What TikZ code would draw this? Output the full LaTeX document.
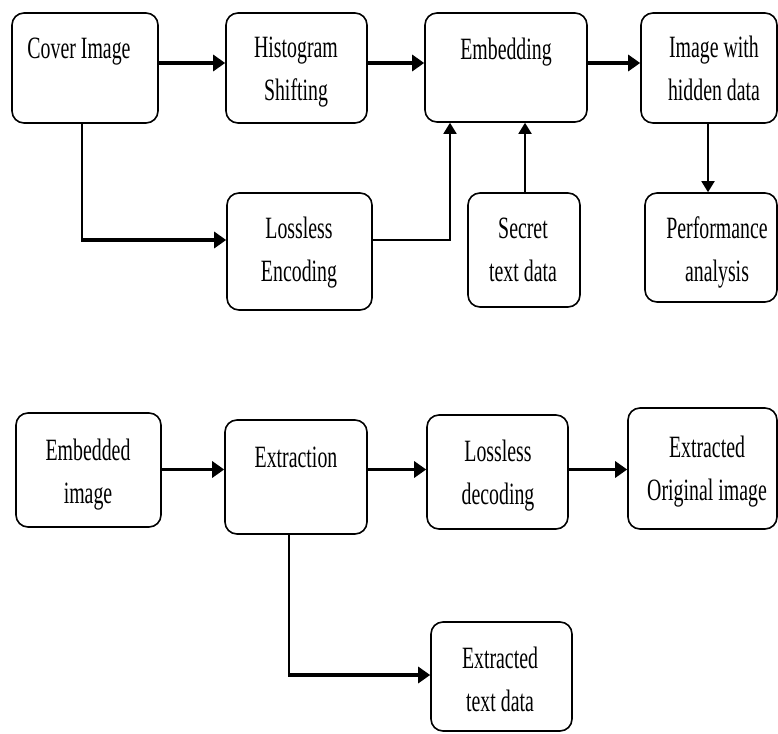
\documentclass[tikz,border=0pt]{standalone}
\usepackage{fontspec}
\usepackage{graphicx}
\setmainfont{Liberation Serif}
\usetikzlibrary{arrows.meta}
\newcommand\lbltxt[1]{\scalebox{0.64}[1]{\begin{tabular}[t]{@{}c@{}}#1\end{tabular}}}
\begin{document}
\begin{tikzpicture}[x=1pt,y=-1pt,
  blk/.style={draw=black, line width=1.6pt, rounded corners=12pt, minimum width=#1, inner sep=0pt},
  txt/.style={anchor=base, inner sep=0pt, font=\fontsize{31}{43}\selectfont},
  thk/.style={line width=3.3pt, -{Triangle[length=12pt,width=16pt]}},
  thn/.style={line width=1.8pt, -{Triangle[length=11pt,width=13pt]}},
  thnl/.style={line width=1.8pt}]
\useasboundingbox (0,0) rectangle (778,733);
% boxes
\node[blk=146pt, minimum height=110pt] (cover) at (85,68) {};
\node[blk=141pt, minimum height=110pt] (hist) at (296.5,68) {};
\node[blk=162pt, minimum height=109pt] (emb) at (506,67.5) {};
\node[blk=136pt, minimum height=110pt] (img) at (709,68) {};
\node[blk=145pt, minimum height=117pt] (lenc) at (299.5,251.5) {};
\node[blk=112pt, minimum height=114pt] (secret) at (524,250) {};
\node[blk=132pt, minimum height=109pt] (perf) at (711,247.5) {};
\node[blk=145pt, minimum height=114pt] (embimg) at (88.5,470) {};
\node[blk=142pt, minimum height=114pt] (extr) at (296,477) {};
\node[blk=141pt, minimum height=114pt] (ldec) at (497.5,472) {};
\node[blk=149pt, minimum height=121pt] (eoi) at (702.5,468.5) {};
\node[blk=141pt, minimum height=109pt] (etd) at (501.5,676.5) {};
% texts
\node[txt] (tcover) at (79,59) {\lbltxt{Cover Image}};
\node[txt] (thist) at (296,58) {\lbltxt{Histogram\\Shifting}};
\node[txt] (temb) at (506,60) {\lbltxt{Embedding}};
\node[txt] (timg) at (714,58) {\lbltxt{Image with\\hidden data}};
\node[txt] (tlenc) at (299,238) {\lbltxt{Lossless\\Encoding}};
\node[txt] (tsecret) at (523,238) {\lbltxt{Secret\\text data}};
\node[txt] (tperf) at (717,238) {\lbltxt{Performance\\analysis}};
\node[txt] (tembimg) at (88,460) {\lbltxt{Embedded\\image}};
\node[txt] (textr) at (296,467) {\lbltxt{Extraction}};
\node[txt] (tldec) at (498,461) {\lbltxt{Lossless\\decoding}};
\node[txt] (teoi) at (707,457) {\lbltxt{Extracted\\Original image}};
\node[txt] (tetd) at (500,668) {\lbltxt{Extracted\\text data}};
% helper coordinates
\coordinate (r1) at (0,63);
\coordinate (a1) at (82,240);
\coordinate (a2) at (450,240);
\coordinate (a3) at (525,0);
\coordinate (a4) at (708,0);
\coordinate (r2) at (0,469.5);
\coordinate (a5) at (289,675);
% connectors
\draw[thk] (cover.east |- r1) -- (hist.west |- r1);
\draw[thk] (hist.east |- r1) -- (emb.west |- r1);
\draw[thk] (emb.east |- r1) -- (img.west |- r1);
\draw[thnl] (cover.south -| a1) -- (a1);
\draw[thk] ([xshift=-0.9pt]a1) -- (lenc.west |- a1);
\draw[thn] (lenc.east |- a2) -- (a2) -- (emb.south -| a2);
\draw[thn] (secret.north -| a3) -- (emb.south -| a3);
\draw[thn] (img.south -| a4) -- (perf.north -| a4);
\draw[thk] (embimg.east |- r2) -- (extr.west |- r2);
\draw[thk] (extr.east |- r2) -- (ldec.west |- r2);
\draw[thk] (ldec.east |- r2) -- (eoi.west |- r2);
\draw[thnl] (extr.south -| a5) -- (a5);
\draw[thk] ([xshift=-0.9pt]a5) -- (etd.west |- a5);
\end{tikzpicture}
\end{document}
